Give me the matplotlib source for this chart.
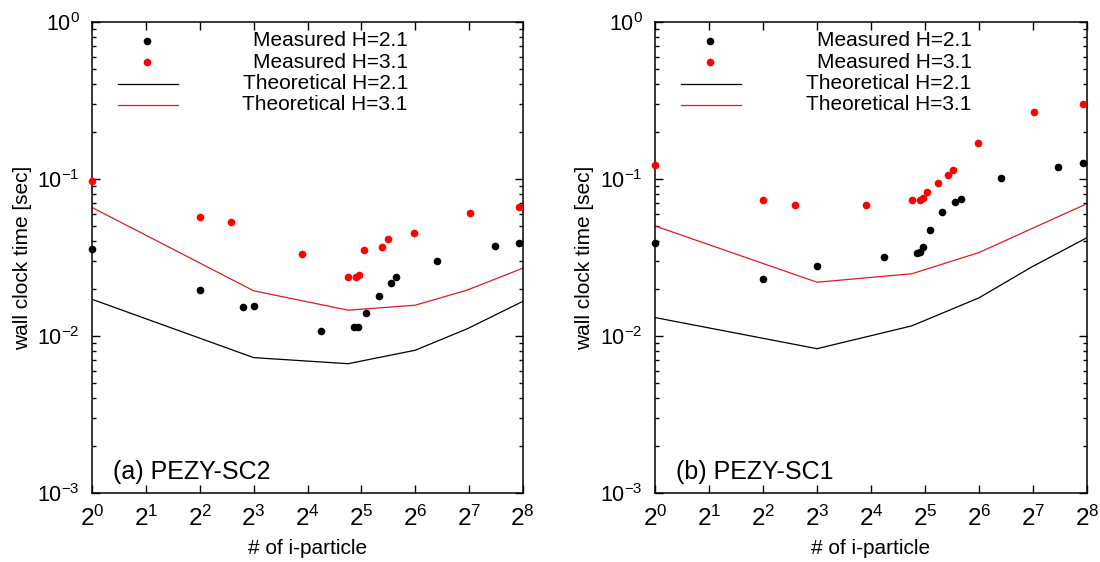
import numpy as np
import matplotlib
matplotlib.use('Agg')
import matplotlib.pyplot as plt
from matplotlib.ticker import LogLocator, NullFormatter, FixedLocator

plt.rcParams['font.family'] = ['Liberation Sans', 'DejaVu Sans']
plt.rcParams['mathtext.fontset'] = 'custom'
plt.rcParams['mathtext.rm'] = 'Liberation Sans'
plt.rcParams['mathtext.it'] = 'Liberation Sans'
plt.rcParams['axes.unicode_minus'] = False

# ---- data ----
# (a) PEZY-SC2
a_meas21_n = [1, 4, 7, 8, 19, 29, 30.5, 34, 40, 47, 50, 85, 178, 245]
a_meas21_t = [0.0358, 0.0195, 0.0154, 0.0155, 0.0107, 0.0114, 0.0114, 0.0141,
              0.0180, 0.0219, 0.0238, 0.0301, 0.0374, 0.0391]
a_meas31_n = [1, 4, 6, 15, 27, 30, 31, 33, 42, 45, 63, 130, 245]
a_meas31_t = [0.0975, 0.0570, 0.0532, 0.0334, 0.0239, 0.0237, 0.0243, 0.0355,
              0.0369, 0.0417, 0.0453, 0.0607, 0.0663]
a_theo_n = [1, 8, 27, 64, 125, 256]
a_theo21_t = [0.0171, 0.00728, 0.00666, 0.00811, 0.0111, 0.0166]
a_theo31_t = [0.0657, 0.0194, 0.0146, 0.0157, 0.0196, 0.0270]

# (b) PEZY-SC1
b_meas21_n = [1, 4, 8, 19, 29, 30, 31, 34, 40, 47, 51, 85, 177, 242]
b_meas21_t = [0.0393, 0.0230, 0.0278, 0.0319, 0.0336, 0.0344, 0.0371, 0.0471,
              0.0616, 0.0710, 0.0742, 0.101, 0.120, 0.126]
b_meas31_n = [1, 4, 6, 15, 27, 30, 31, 33, 38, 43, 46, 63, 130, 242]
b_meas31_t = [0.122, 0.0735, 0.0683, 0.0683, 0.0738, 0.0738, 0.0754, 0.0826,
              0.0944, 0.106, 0.1135, 0.169, 0.268, 0.302]
b_theo_n = [1, 8, 27, 64, 125, 256]
b_theo21_t = [0.0131, 0.0083, 0.0116, 0.0175, 0.0274, 0.0423]
b_theo31_t = [0.0502, 0.0220, 0.0249, 0.0340, 0.0481, 0.0696]

x_ticks = [2 ** k for k in range(9)]
legend_labels = ['Measured H=2.1', 'Measured H=3.1',
                 'Theoretical H=2.1', 'Theoretical H=3.1']

RED = '#ff0000'
RED_LINE = '#dd1c1c'
MS = 5.5


def draw_panel(ax, m21n, m21t, m31n, m31t, tn, t21, t31, tag):
    ax.plot(tn, t21, color='black', lw=0.9, zorder=2)
    ax.plot(tn, t31, color=RED_LINE, lw=0.9, zorder=2)
    ax.plot(m21n, m21t, 'o', color='black', ms=MS, mec='none', zorder=3,
            clip_on=False)
    ax.plot(m31n, m31t, 'o', color=RED, ms=MS, mec='none', zorder=3,
            clip_on=False)

    ax.set_xscale('log', base=2)
    ax.set_yscale('log')
    ax.set_xlim(1, 256)
    ax.set_ylim(1e-3, 1)
    ax.xaxis.set_major_locator(FixedLocator(x_ticks))
    ax.xaxis.set_minor_locator(FixedLocator([]))
    ax.yaxis.set_major_locator(LogLocator(base=10))
    ax.yaxis.set_minor_locator(LogLocator(base=10, subs=np.arange(2, 10)))
    ax.yaxis.set_minor_formatter(NullFormatter())

    ax.tick_params(which='both', direction='in', top=True, right=True,
                   width=1.0)
    ax.tick_params(axis='x', which='major', length=5.5, labelsize=17.5, pad=9)
    ax.tick_params(axis='y', which='major', length=5.5, labelsize=15.5, pad=9)
    ax.tick_params(axis='y', which='minor', length=3)
    for s in ax.spines.values():
        s.set_linewidth(1.1)

    ax.set_xlabel('# of i-particle', fontsize=15, labelpad=6)
    ax.set_ylabel('wall clock time [sec]', fontsize=15, labelpad=4)

    # legend in gnuplot style: symbol on the left, right-aligned text
    rows = [0.960, 0.914, 0.869, 0.824]
    ax.plot([0.127], [rows[0]], 'o', color='black', ms=MS, mec='none',
            transform=ax.transAxes)
    ax.plot([0.127], [rows[1]], 'o', color=RED, ms=MS, mec='none',
            transform=ax.transAxes)
    ax.plot([0.060, 0.199], [rows[2], rows[2]], color='black', lw=0.9,
            transform=ax.transAxes)
    ax.plot([0.060, 0.199], [rows[3], rows[3]], color=RED_LINE, lw=0.9,
            transform=ax.transAxes)
    for y, lab in zip(rows, legend_labels):
        ax.text(0.733, y, lab, transform=ax.transAxes, ha='right',
                va='center', fontsize=15)

    ax.text(0.048, 0.045, tag, transform=ax.transAxes, ha='left',
            va='center', fontsize=18)


fig = plt.figure(figsize=(11, 5.62), dpi=100)
ax1 = fig.add_axes([0.0839, 0.1228, 0.3913, 0.8381])
ax2 = fig.add_axes([0.5955, 0.1228, 0.3927, 0.8381])

draw_panel(ax1, a_meas21_n, a_meas21_t, a_meas31_n, a_meas31_t,
           a_theo_n, a_theo21_t, a_theo31_t, '(a) PEZY-SC2')
draw_panel(ax2, b_meas21_n, b_meas21_t, b_meas31_n, b_meas31_t,
           b_theo_n, b_theo21_t, b_theo31_t, '(b) PEZY-SC1')

fig.savefig('out.png', dpi=100)
